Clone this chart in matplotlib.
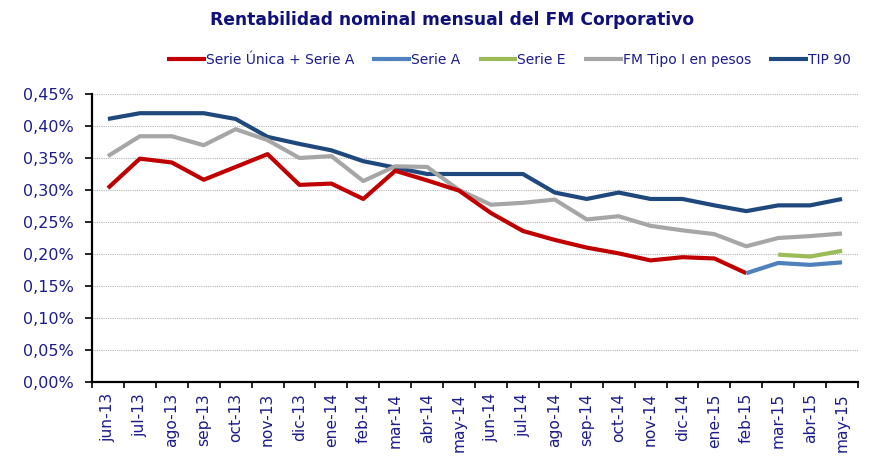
import matplotlib
matplotlib.use("Agg")
import matplotlib.pyplot as plt
import numpy as np

months = ["jun-13", "jul-13", "ago-13", "sep-13", "oct-13", "nov-13", "dic-13", "ene-14",
          "feb-14", "mar-14", "abr-14", "may-14", "jun-14", "jul-14", "ago-14", "sep-14",
          "oct-14", "nov-14", "dic-14", "ene-15", "feb-15", "mar-15", "abr-15", "may-15"]

serie_unica = [0.303, 0.349, 0.343, 0.316, 0.336, 0.356, 0.308, 0.310, 0.286, 0.330, 0.315, 0.299,
               0.264, 0.236, 0.222, 0.210, 0.201, 0.190, 0.195, 0.193, 0.170,
               None, None, None]
serie_a = [None] * 20 + [0.170, 0.186, 0.183, 0.187]
serie_e = [None] * 21 + [0.199, 0.196, 0.205]
fm_tipo1 = [0.353, 0.384, 0.384, 0.370, 0.395, 0.378, 0.350, 0.353, 0.314, 0.337, 0.336, 0.300,
            0.277, 0.280, 0.285, 0.254, 0.259, 0.244, 0.237, 0.231, 0.212, 0.225, 0.228, 0.232]
tip90 = [0.411, 0.420, 0.420, 0.420, 0.411, 0.383, 0.372, 0.362, 0.345, 0.335, 0.325, 0.325,
         0.325, 0.325, 0.296, 0.286, 0.296, 0.286, 0.286, 0.276, 0.267, 0.276, 0.276, 0.286]

yticks = [0.00, 0.05, 0.10, 0.15, 0.20, 0.25, 0.30, 0.35, 0.40, 0.45]
ytick_labels = ["0,00%", "0,05%", "0,10%", "0,15%", "0,20%", "0,25%", "0,30%", "0,35%", "0,40%", "0,45%"]

txt = "#1C1C8C"
fig = plt.figure(figsize=(8.88, 4.67), dpi=100)
ax = fig.add_axes([92 / 888, 1 - 382 / 467, 766 / 888, 288 / 467])

x = np.arange(len(months))

def arr(v):
    return np.array([np.nan if a is None else a for a in v], dtype=float)

lw = 3.0
series = [
    ("Serie Única + Serie A", serie_unica, "#C00000"),
    ("Serie A", serie_a, "#4F81BD"),
    ("Serie E", serie_e, "#9BBB59"),
    ("FM Tipo I en pesos", fm_tipo1, "#A6A6A6"),
    ("TIP 90", tip90, "#1F497D"),
]
zorders = {"Serie Única + Serie A": 4, "Serie A": 5, "Serie E": 5, "FM Tipo I en pesos": 3, "TIP 90": 2}
for name, vals, col in series:
    ax.plot(x, arr(vals), color=col, lw=lw, label=name, zorder=zorders[name],
            solid_joinstyle="round", solid_capstyle="butt")

ax.set_xlim(-0.5, len(months) - 0.5)
ax.set_ylim(0, 0.45)
ax.set_yticks(yticks)
ax.set_yticklabels(ytick_labels, color=txt, fontsize=11.5)
ax.yaxis.grid(True, linestyle=(0, (1, 1)), color="#B4B4B4", lw=0.8)
ax.set_axisbelow(True)

ax.set_xticks(x)
ax.set_xticklabels(months, rotation=90, color=txt, fontsize=11.2)
ax.set_xticks(np.arange(-0.5, len(months), 1), minor=True)
ax.tick_params(axis="x", which="major", length=0, pad=8)
ax.tick_params(axis="x", which="minor", length=4, width=1.2, color="black", direction="out")
ax.tick_params(axis="y", length=5, width=1.2, direction="out", pad=8)

for s in ["top", "right"]:
    ax.spines[s].set_visible(False)
for s in ["left", "bottom"]:
    ax.spines[s].set_linewidth(1.6)

fig.text(452 / 888, 1 - 20 / 467, "Rentabilidad nominal mensual del FM Corporativo",
         ha="center", va="center", fontsize=12.3, fontweight="bold", color="#10107A")

leg = fig.legend(loc="center", bbox_to_anchor=(509 / 888, 1 - 60 / 467), ncol=5, frameon=False,
                 fontsize=10, handlelength=2.8, handletextpad=0.0, columnspacing=1.3,
                 labelcolor=txt)

fig.savefig("out.png", dpi=100)
